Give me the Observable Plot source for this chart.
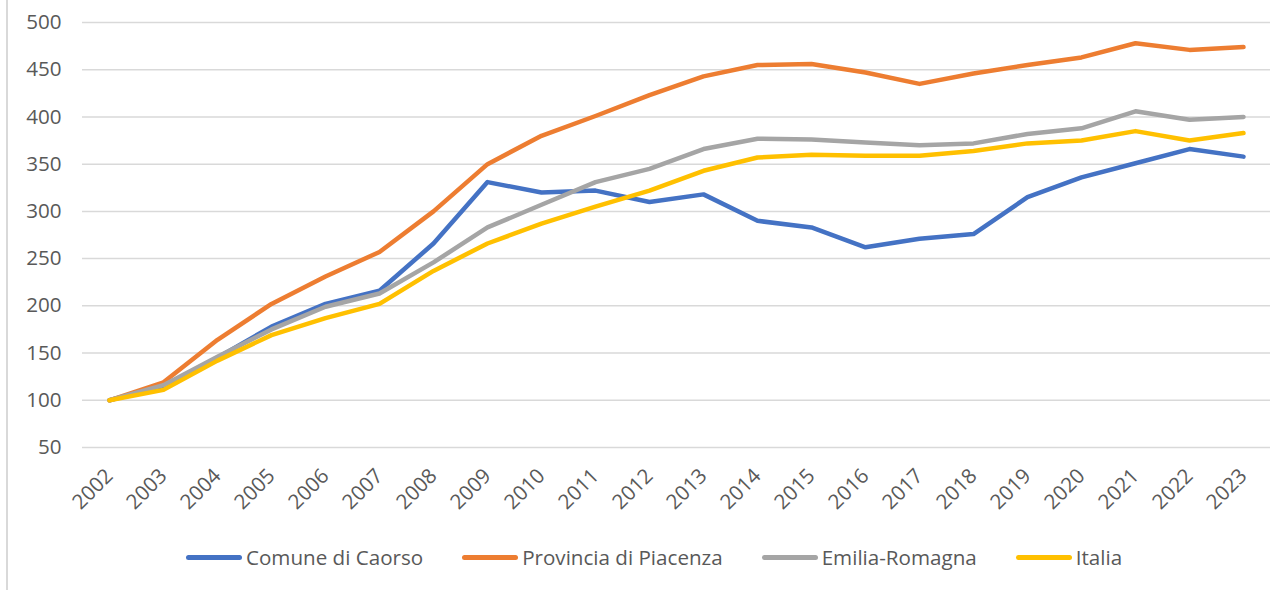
<!DOCTYPE html>
<html>
<head>
<meta charset="utf-8">
<script src="https://cdn.jsdelivr.net/npm/d3@7"></script>
<script src="https://cdn.jsdelivr.net/npm/@observablehq/plot@0.6"></script>
<style>
  html, body { margin: 0; padding: 0; background: #fff; }
  body { width: 1271px; height: 590px; position: relative; overflow: hidden; font-family: "Open Sans", sans-serif; }
  #frame { position: absolute; left: 6px; top: 0; width: 0; height: 590px; border-left: 2px solid #D9D9D9; }
  #chart { position: absolute; left: 0; top: 0; }
  #legend { position: absolute; left: 186px; top: 545px; height: 24px; display: flex; align-items: center; color: #595959; font-size: 20.6px; }
  .item { display: flex; align-items: center; margin-right: 39px; }
  .sw { width: 56px; height: 5px; border-radius: 3px; margin-right: 4px; }
</style>
</head>
<body>
<div id="frame"></div>
<div id="chart"></div>
<div id="legend"></div>
<script>
const years = ["2002","2003","2004","2005","2006","2007","2008","2009","2010","2011","2012","2013","2014","2015","2016","2017","2018","2019","2020","2021","2022","2023"];
const seriesNames = ["Comune di Caorso","Provincia di Piacenza","Emilia-Romagna","Italia"];
const seriesColors = ["#4472C4","#ED7D31","#A5A5A5","#FFC000"];
const comune    = [100,115,145,178,202,216,266,331,320,322,310,318,290,283,262,271,276,315,336,351,366,358];
const provincia = [100,119,164,202,231,257,300,350,380,401,423,443,455,456,447,435,446,455,463,478,471,474];
const emilia    = [100,116,146,175,199,213,246,283,307,331,345,366,377,376,373,370,372,382,388,406,397,400];
const italia    = [100,111,142,169,187,202,237,266,287,305,322,343,357,360,359,359,364,372,375,385,375,383];
const yTicks = [50,100,150,200,250,300,350,400,450,500];

const allValues = [comune, provincia, emilia, italia];
const lineMarks = seriesNames.map((name, i) =>
  Plot.line(years.map((y, j) => ({year: y, value: allValues[i][j], series: name})), {
    x: "year", y: "value", stroke: seriesColors[i], strokeWidth: 4.5,
    strokeLinejoin: "round", strokeLinecap: "round"
  })
);

const chart = Plot.plot({
  width: 1271, height: 520,
  marginLeft: 82, marginRight: 1, marginTop: 22, marginBottom: 73,
  style: {fontFamily: "'Open Sans', sans-serif", color: "#595959", background: "transparent"},
  x: {type: "point", domain: years, padding: 0.5},
  y: {domain: [50, 500]},
  marks: [
    Plot.gridY(yTicks, {stroke: "#D9D9D9", strokeOpacity: 1, strokeWidth: 1.5}),
    Plot.axisY(yTicks, {tickSize: 0, tickPadding: 21, fontSize: 20.6, fill: "#595959", label: null}),
    Plot.axisX({tickRotate: -45, tickSize: 0, tickPadding: 25, fontSize: 20.6, fill: "#595959", label: null}),
    ...lineMarks
  ]
});
document.getElementById("chart").appendChild(chart);

const legend = document.getElementById("legend");
seriesNames.forEach((name, i) => {
  const item = document.createElement("div");
  item.className = "item";
  const sw = document.createElement("div");
  sw.className = "sw";
  sw.style.background = seriesColors[i];
  const t = document.createElement("span");
  t.textContent = name;
  item.appendChild(sw);
  item.appendChild(t);
  legend.appendChild(item);
});
</script>
</body>
</html>
